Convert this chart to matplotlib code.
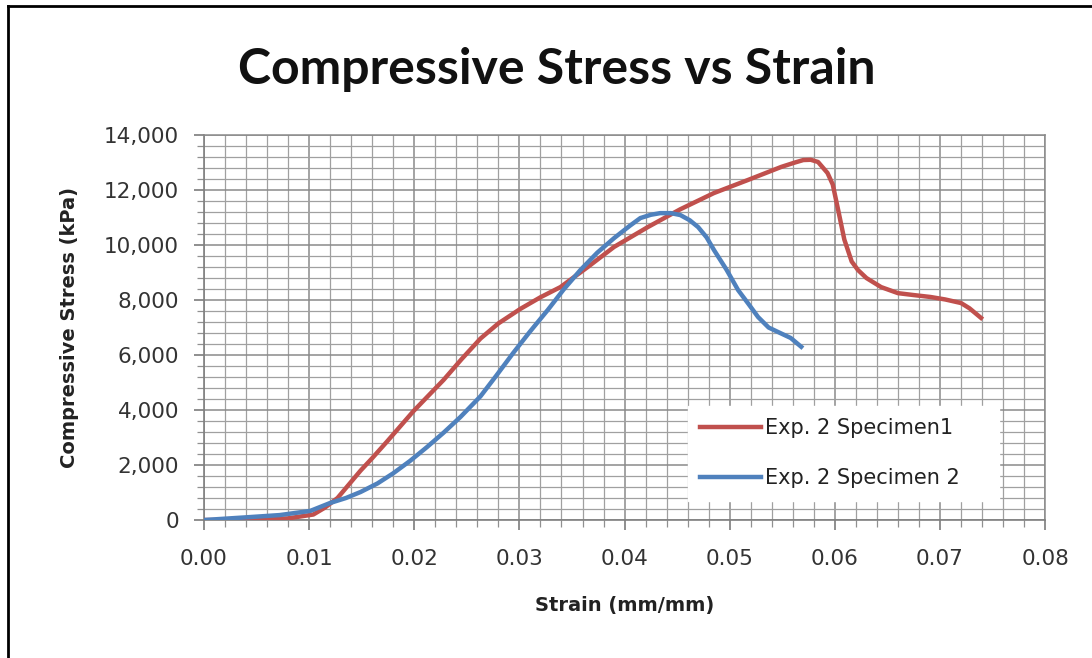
import matplotlib
matplotlib.use('Agg')
import matplotlib.pyplot as plt
from matplotlib.ticker import MultipleLocator, FuncFormatter
from matplotlib.lines import Line2D

# values (strain mm/mm, stress kPa)
spec1_strain = [0.0, 0.004, 0.008, 0.0104, 0.0115, 0.0127, 0.0138, 0.0149, 0.016,
                0.0174, 0.0199, 0.0228, 0.0245, 0.0263, 0.028, 0.0301, 0.032,
                0.0339, 0.0365, 0.039, 0.0422, 0.0453, 0.0485, 0.0517, 0.0549,
                0.0562, 0.057, 0.0577, 0.0584, 0.0593, 0.0598, 0.0603, 0.0609,
                0.0616, 0.0622, 0.063, 0.0644, 0.066, 0.0675, 0.0691, 0.0705,
                0.072, 0.0728, 0.0739]
spec1_stress = [0, 0, 60, 200, 450, 800, 1300, 1800, 2250,
                2850, 3950, 5100, 5850, 6600, 7150, 7680, 8100,
                8470, 9200, 9930, 10650, 11300, 11890, 12360, 12840,
                13000, 13090, 13100, 13020, 12620, 12200, 11300, 10200,
                9400, 9090, 8800, 8470, 8250, 8180, 8110, 8020,
                7890, 7700, 7350]

spec2_strain = [0.0, 0.0041, 0.0072, 0.0101, 0.012, 0.0135, 0.0149, 0.0165, 0.018,
                0.0196, 0.0212, 0.0228, 0.0244, 0.0263, 0.0278, 0.0294, 0.031,
                0.0327, 0.0342, 0.0358, 0.0374, 0.039, 0.0405, 0.0415, 0.0425,
                0.0434, 0.0444, 0.0453, 0.0462, 0.047, 0.0478, 0.0485, 0.0497,
                0.0508, 0.0518, 0.0527, 0.0537, 0.0548, 0.0558, 0.0568]
spec2_stress = [0, 100, 180, 330, 620, 800, 1020, 1330, 1700,
                2150, 2650, 3180, 3750, 4500, 5250, 6070, 6850,
                7640, 8380, 9090, 9720, 10250, 10700, 10980, 11100,
                11160, 11160, 11090, 10900, 10650, 10280, 9820, 9100,
                8360, 7850, 7380, 7000, 6800, 6620, 6300]

labels = ['Exp. 2 Specimen1', 'Exp. 2 Specimen 2']
colors = ['#C0504D', '#4F81BD']

plt.rcParams['font.family'] = ['DejaVu Sans']

fig = plt.figure(figsize=(10.92, 6.58), dpi=100)
ax = fig.add_axes([0.1868, 0.2097, 0.7703, 0.5851])

ax.plot(spec1_strain, spec1_stress, color=colors[0], lw=3.2, solid_joinstyle='round', zorder=3)
ax.plot(spec2_strain, spec2_stress, color=colors[1], lw=3.2, solid_joinstyle='round', zorder=3)

ax.set_xlim(0, 0.08)
ax.set_ylim(0, 14000)
ax.xaxis.set_major_locator(MultipleLocator(0.01))
ax.xaxis.set_minor_locator(MultipleLocator(0.002))
ax.yaxis.set_major_locator(MultipleLocator(2000))
ax.yaxis.set_minor_locator(MultipleLocator(400))
ax.xaxis.set_major_formatter(FuncFormatter(lambda v, p: '%.2f' % v))
ax.yaxis.set_major_formatter(FuncFormatter(lambda v, p: '{:,.0f}'.format(v)))

ax.grid(which='major', color='#8a8a8a', lw=1.1)
ax.grid(which='minor', color='#a0a0a0', lw=0.9)
ax.set_axisbelow(True)

for s in ['left', 'bottom']:
    ax.spines[s].set_color('#808080')
    ax.spines[s].set_linewidth(1.2)
for s in ['top', 'right']:
    ax.spines[s].set_color('#8a8a8a')
    ax.spines[s].set_linewidth(1.1)

ax.tick_params(which='major', direction='out', length=7, color='#707070', width=1.1,
               labelsize=15.5, labelcolor='#333333')
ax.tick_params(axis='x', which='major', pad=14)
ax.tick_params(axis='y', which='major', pad=11)
ax.tick_params(which='minor', direction='out', length=5, color='#909090', width=0.9)

ax.set_xlabel('Strain (mm/mm)', fontsize=14, fontweight='bold', color='#222222', labelpad=19)
ax.set_ylabel('Compressive Stress (kPa)', fontsize=14, fontweight='bold', color='#222222', labelpad=18)

fig.text(0.51, 0.895, 'Compressive Stress vs Strain', ha='center', va='center',
         fontsize=36, fontweight='bold', color='#111111', family=['Lato', 'DejaVu Sans'])

handles = [Line2D([], [], color=c, lw=3.2) for c in colors]
leg = ax.legend(handles, labels, loc='lower left', bbox_to_anchor=(0.575, 0.05, 0.37, 0.255),
                mode='expand', frameon=True, fontsize=15, handlelength=2.9, handletextpad=0.2,
                labelspacing=1.45, borderaxespad=0, fancybox=False, borderpad=0.6)
leg.get_frame().set_facecolor('white')
leg.get_frame().set_edgecolor('white')
leg.get_frame().set_alpha(1.0)
for t in leg.get_texts():
    t.set_color('#222222')

# outer frame (left and top edges of the chart)
fig.add_artist(Line2D([0.0075, 0.0075], [0.0, 0.991], transform=fig.transFigure, color='black', lw=2))
fig.add_artist(Line2D([0.0075, 1.0], [0.991, 0.991], transform=fig.transFigure, color='black', lw=2))

fig.savefig('out.png', dpi=100)
